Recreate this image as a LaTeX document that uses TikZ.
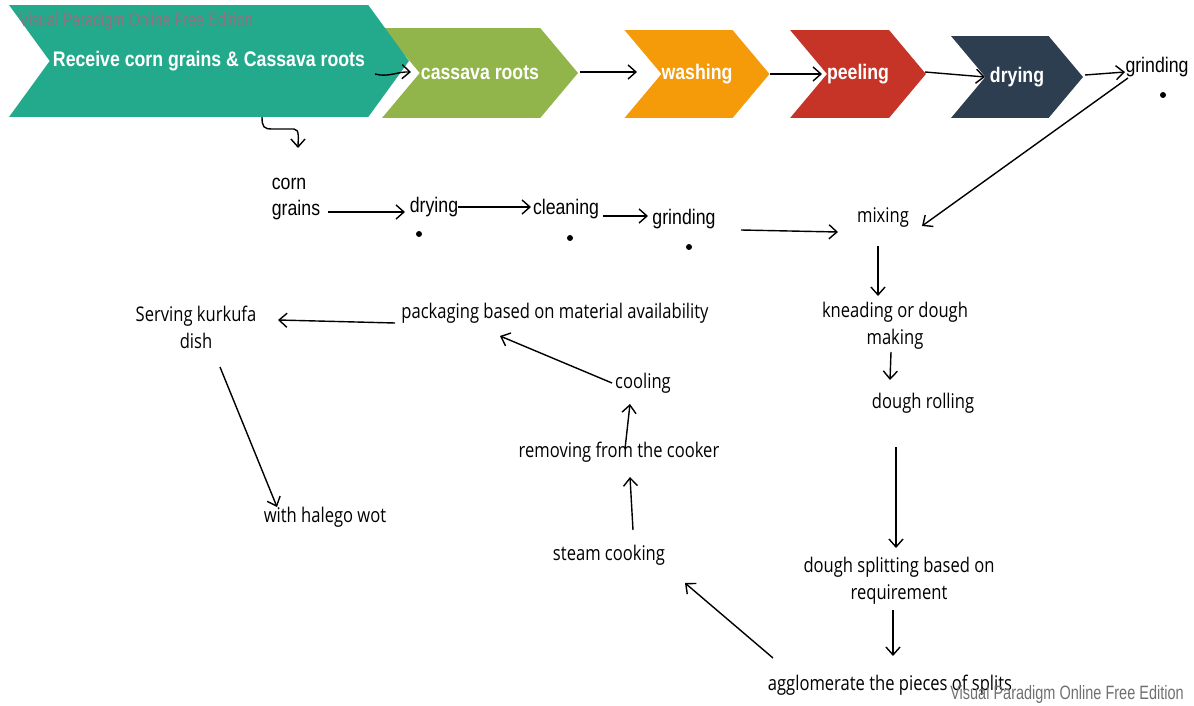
\documentclass[tikz,border=0pt]{standalone}
\usepackage{fontspec}
\setmainfont{Open Sans}[FakeStretch=0.82]
\newfontfamily\arialn{Liberation Sans}[FakeStretch=0.84]
\newfontfamily\wmfont{Liberation Sans}[FakeStretch=0.75]
\usepackage{tikz}
\usetikzlibrary{arrows,arrows.meta,calc,shapes.symbols}
\definecolor{recvteal}{HTML}{23A98B}
\definecolor{cassgreen}{HTML}{91B44B}
\definecolor{washorange}{HTML}{F59B0A}
\definecolor{peelred}{HTML}{C63428}
\definecolor{drynavy}{HTML}{2C3E50}
\definecolor{wmrose}{HTML}{8C7480}
\definecolor{wmgray}{HTML}{707070}

\begin{document}
\begin{tikzpicture}[x=0.02cm,y=-0.02cm]
% Styles
\tikzstyle{chev}=[signal, signal from=west, signal to=east, signal pointer angle=100, draw=none, text=white, inner sep=0pt, font=\arialn\bfseries\fontsize{12}{14}\selectfont]
\tikzstyle{proc text}=[align=center, inner sep=1pt, font=\fontsize{11.5}{15.4}\selectfont]
\tikzstyle{corn text}=[align=left, inner sep=1pt, font=\arialn\fontsize{12}{14.5}\selectfont]
\tikzstyle{wm}=[inner sep=0pt, font=\wmfont\fontsize{11}{13}\selectfont]
\tikzstyle{flow}=[-{Straight Barb[length=4.5pt,width=8pt]}, line width=0.8pt]

\useasboundingbox (0,0) rectangle (1194,706);

% the chevrons on top
\node[chev, fill=cassgreen, minimum width=3.92cm, minimum height=1.8cm] (cassava) at (480,73) {cassava roots};
\node[chev, fill=recvteal, minimum width=8cm, minimum height=2.24cm, signal pointer angle=108] (recv) at (209,61) {\raisebox{-2pt}{Receive corn grains \& Cassava roots}\hspace{10pt}};
\node[chev, fill=washorange, minimum width=2.9cm, minimum height=1.76cm] (washing) at (697,74) {washing};
\node[chev, fill=peelred, minimum width=2.6cm, minimum height=1.76cm] (peeling) at (858,74) {peeling};
\node[chev, fill=drynavy, minimum width=2.64cm, minimum height=1.64cm] (drying) at (1017,77) {drying};
\node[corn text] (grindA) at (1157,67) {grinding};

% corn grains line
\node[corn text] (corn) at (296,199) {corn\\grains};
\node[corn text] (dryB) at (434,207) {drying};
\node[corn text] (cleaning) at (566,209) {cleaning};
\node[corn text] (grindB) at (684,219) {grinding};

% the dough steps
\node[proc text] (mixing) at (883,218) {mixing};
\node[proc text] (kneading) at (895,326) {kneading or dough\\making};
\node[proc text] (rolling) at (923,403) {dough rolling};
\node[proc text] (splitting) at (899,581) {dough splitting based on\\requirement};
\node[proc text] (agglom) at (890,685) {agglomerate the pieces of splits};
\node[proc text] (steam) at (609,555) {steam cooking};
\node[proc text] (removing) at (619,452) {removing from the cooker};
\node[proc text] (cooling) at (643,383) {cooling};
\node[proc text] (packaging) at (555,313) {packaging based on material availability};
\node[proc text] (serving) at (196,327) {Serving kurkufa\\dish};
\node[proc text] (halego) at (325,517) {with halego wot};

% watermark
\node[wm, text=wmrose] (wmtop) at (136,22) {Visual Paradigm Online Free Edition};
\node[wm, text=wmgray] (wmbot) at (1067,694) {Visual Paradigm Online Free Edition};

% dots
\foreach \n/\dx/\dy in {dryB/-15/27, cleaning/4/29, grindB/5/28, grindA/6/28} {
\fill ($(\n)+(\dx,\dy)$) circle (0.06cm);
}

% arrows
\draw[flow] ($(recv)+(166,13)$) to[out=-15,in=178] ($(cassava)+(-69,-1)$);
\draw[flow] ($(cassava)+(100,-1)$) -- ($(washing)+(-60,-2)$);
\draw[flow] ($(washing)+(73,0)$) -- ($(peeling)+(-36,0)$);
\draw[flow] ($(peeling)+(67,-2)$) -- ($(drying)+(-32,0)$);
\draw[flow] ($(drying)+(68,-2)$) -- ($(grindA)+(-32,5)$);
\draw[flow] ($(grindA)+(-29,11)$) -- ($(mixing)+(39,8)$);
\draw[flow] ($(recv)+(53,56)$) .. controls +(0,10) and +(-8,0) .. ++(10,12) -- ++(22,0) .. controls +(6,0) and +(0,-8) .. ($(corn)+(2,-51)$);
\draw[flow] ($(corn)+(32,13)$) -- ($(dryB)+(-29,5)$);
\draw[flow] ($(dryB)+(24,0)$) -- ($(cleaning)+(-35,-2)$);
\draw[flow] ($(cleaning)+(37,7)$) -- ($(grindB)+(-36,-3)$);
\draw[flow] ($(grindB)+(57,11)$) -- ($(mixing)+(-45,14)$);
\draw[flow] ($(mixing)+(-5,28)$) -- ($(kneading)+(-17,-30)$);
\draw[flow] ($(kneading)+(-4,26)$) -- ($(rolling)+(-33,-23)$);
\draw[flow] ($(rolling)+(-27,44)$) -- ($(splitting)+(-3,-33)$);
\draw[flow] ($(splitting)+(-6,29)$) -- ($(agglom)+(3,-29)$);
\draw[flow] ($(agglom)+(-117,-27)$) -- ($(steam)+(76,28)$);
\draw[flow] ($(steam)+(24,-25)$) -- ($(removing)+(11,25)$);
\draw[flow] ($(removing)+(6,-3)$) -- ($(cooling)+(-13,21)$);
\draw[flow] ($(cooling)+(-31,0)$) -- ($(packaging)+(-55,23)$);
\draw[flow] ($(packaging)+(-160,10)$) -- ($(serving)+(82,-7)$);
\draw[flow] ($(serving)+(24,40)$) -- ($(halego)+(-48,-10)$);

\end{tikzpicture}
\end{document}
